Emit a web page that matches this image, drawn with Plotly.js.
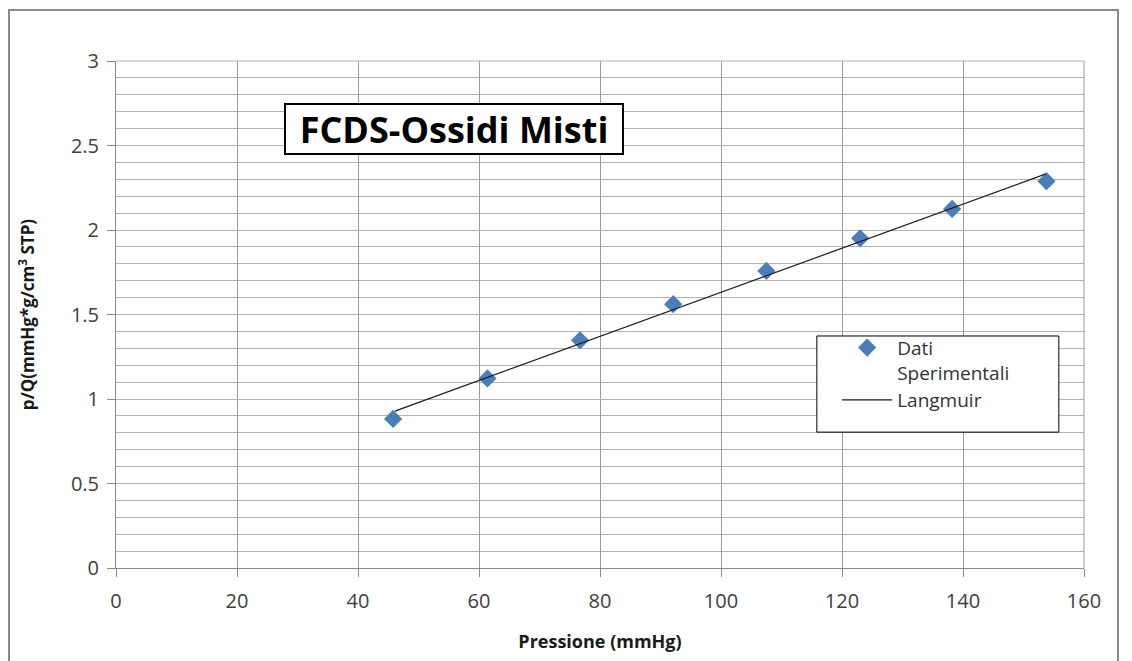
<!DOCTYPE html>
<html>
<head>
<meta charset="utf-8">
<script src="https://cdn.plot.ly/plotly-3.0.1.min.js"></script>
<style>
  html, body { margin: 0; padding: 0; background: #fff; }
  #frame { position: absolute; left: 8px; top: 9px; width: 1111px; height: 700px; border: 2px solid #8a8a8a; box-sizing: border-box; }
  #chart { position: absolute; left: 0; top: 0; width: 1132px; height: 661px; }
</style>
</head>
<body>
<div id="frame"></div>
<div id="chart"></div>
<script>
// Experimental data (Pressione in mmHg, p/Q)
const pressione = [45.8, 61.4, 76.7, 92.1, 107.5, 123.0, 138.2, 153.8];
const pSuQ = [0.882, 1.122, 1.347, 1.561, 1.758, 1.951, 2.125, 2.289];
// Langmuir linear fit
const langmuirX = [46.1, 153.7];
const langmuirY = [0.928, 2.332];

const chartTitle = 'FCDS-Ossidi Misti';
const xTitle = 'Pressione (mmHg)';
const yTitle = 'p/Q(mmHg*g/cm<sup>3</sup> STP)';
const seriesNames = ['Dati<br>Sperimentali', 'Langmuir'];

const FONT = 'Open Sans, Liberation Sans, sans-serif';
const GRID = '#b3b3b3';

const data = [
  {
    x: pressione, y: pSuQ, type: 'scatter', mode: 'markers', name: seriesNames[0],
    marker: { symbol: 'diamond', size: 14, color: '#4a7ebb', line: { width: 0 } }
  },
  {
    x: langmuirX, y: langmuirY, type: 'scatter', mode: 'lines', name: seriesNames[1],
    line: { color: '#1a1a1a', width: 1.2 }
  }
];

const layout = {
  width: 1132, height: 661,
  margin: { l: 116, r: 48, t: 61, b: 93 },
  paper_bgcolor: 'rgba(0,0,0,0)',
  plot_bgcolor: 'rgba(0,0,0,0)',
  font: { family: FONT, color: '#404040' },
  showlegend: true,
  legend: {
    x: 0.745, y: 0.472, xanchor: 'left', yanchor: 'top',
    bgcolor: 'rgba(0,0,0,0)', borderwidth: 0,
    font: { family: FONT, size: 19, color: '#333' },
    valign: 'top', tracegroupgap: 0, itemwidth: 50
  },
  xaxis: {
    range: [0, 160], dtick: 20, tick0: 0,
    showgrid: true, gridcolor: '#9a9a9a', gridwidth: 1,
    zeroline: false, showline: true, linecolor: '#8a8a8a', linewidth: 1,
    ticks: 'outside', ticklen: 8, tickcolor: '#8a8a8a', ticklabelstandoff: 7,
    tickfont: { family: FONT, size: 20, color: '#404040' },
    title: { text: '<b>' + xTitle + '</b>', font: { family: FONT, size: 18, color: '#1a1a1a' }, standoff: 22 },
    automargin: false, fixedrange: true
  },
  yaxis: {
    range: [0, 3], dtick: 0.5, tick0: 0,
    showgrid: true, gridcolor: GRID, gridwidth: 1,
    minor: { dtick: 0.1, showgrid: true, gridcolor: GRID, gridwidth: 1 },
    zeroline: false, showline: true, linecolor: '#8a8a8a', linewidth: 1,
    ticks: 'outside', ticklen: 8, tickcolor: '#8a8a8a', ticklabelstandoff: 4,
    tickfont: { family: FONT, size: 20, color: '#404040' },
    title: { text: '<b>' + yTitle + '</b>', font: { family: FONT, size: 17, color: '#1a1a1a' }, standoff: 31 },
    automargin: false, fixedrange: true
  },
  shapes: [
    { type: 'rect', xref: 'paper', yref: 'paper', x0: 0.724, x1: 0.974, y0: 0.268, y1: 0.4576,
      line: { color: '#000', width: 1 }, fillcolor: '#fff', layer: 'above' },
    { type: 'line', xref: 'paper', yref: 'paper', x0: 1, x1: 1, y0: 0, y1: 1, line: { color: '#9a9a9a', width: 1 } },
    { type: 'line', xref: 'paper', yref: 'paper', x0: 0, x1: 1, y0: 1, y1: 1, line: { color: GRID, width: 1 } }
  ],
  annotations: [
    { text: '<b>' + chartTitle + '</b>', xref: 'paper', yref: 'paper', x: 0.349, y: 0.866,
      xanchor: 'center', yanchor: 'middle', showarrow: false,
      font: { family: FONT, size: 36, color: '#000' },
      bgcolor: '#fff', bordercolor: '#000', borderwidth: 2, borderpad: 0,
      width: 336, height: 48 }
  ]
};

Plotly.newPlot('chart', data, layout, { displayModeBar: false, staticPlot: true });
</script>
</body>
</html>
